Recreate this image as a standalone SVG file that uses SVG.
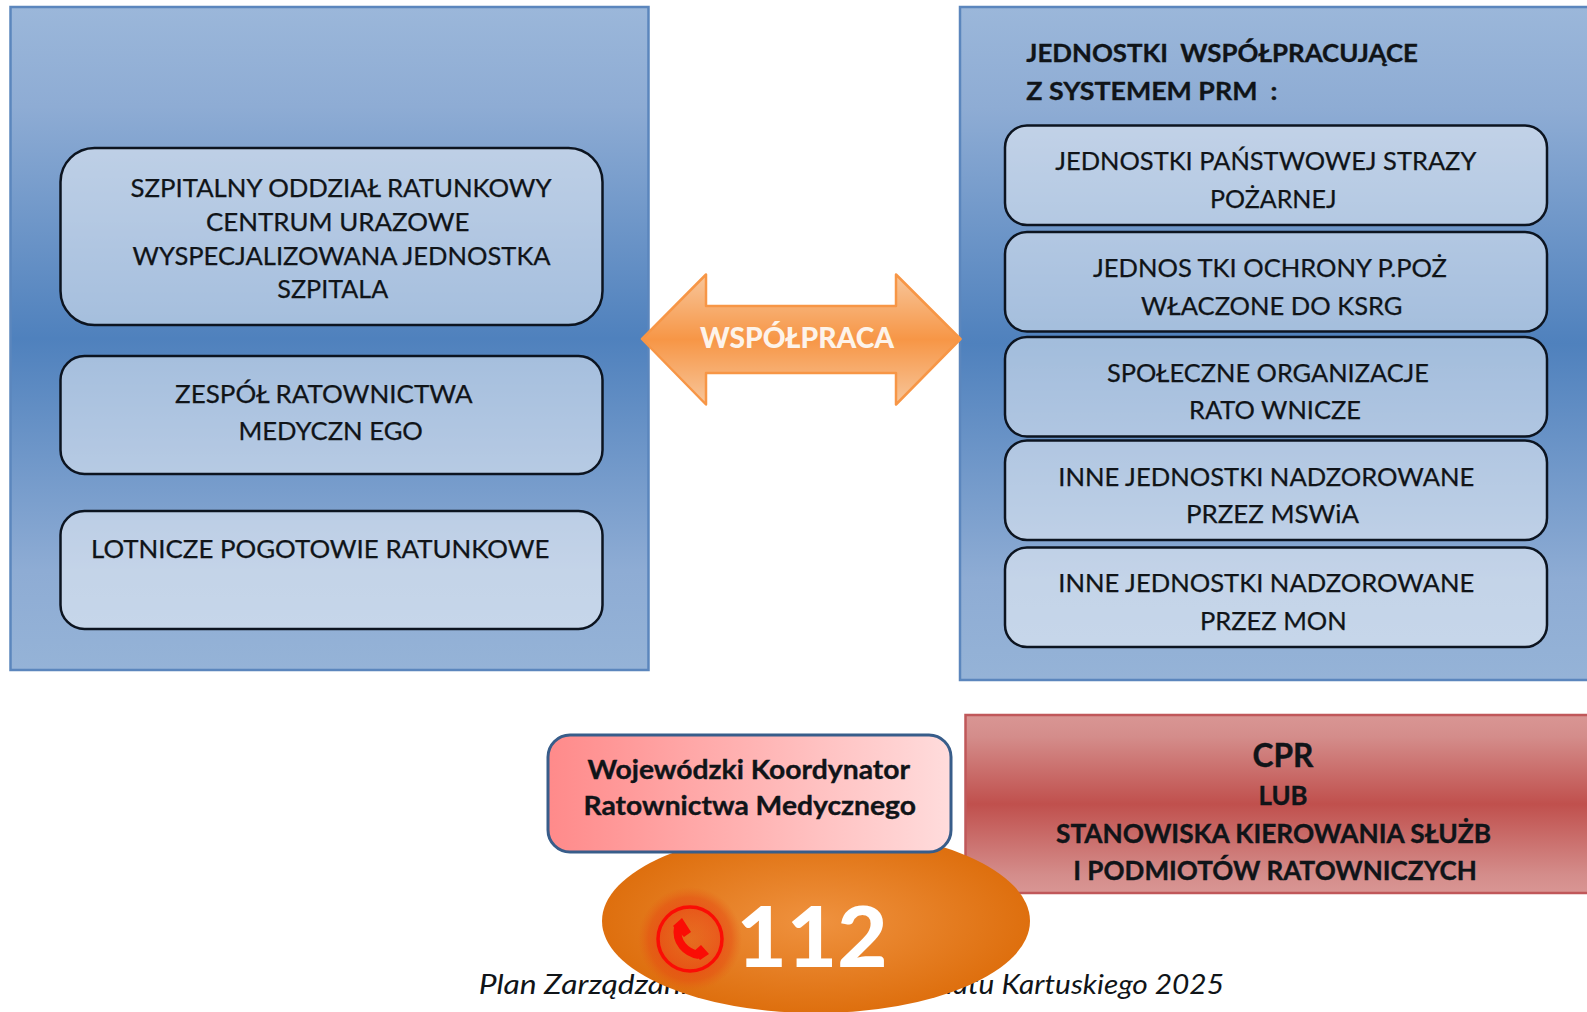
<svg xmlns="http://www.w3.org/2000/svg" width="1587" height="1012" viewBox="0 0 1587 1012">
<style>
text{font-family:"Lato","Liberation Sans",sans-serif;white-space:pre;fill:#101418}
.b{font-size:25px;stroke:#101418;stroke-width:.25}
.h{font-size:25px;font-weight:700;stroke:#101418;stroke-width:.35}
.k{font-size:26px;font-weight:700;stroke:#101418;stroke-width:.35}
.c{font-size:27px;font-style:italic}
.panel{fill:url(#pg);stroke:#5b86bd;stroke-width:2.5}
.box{fill:#fff;fill-opacity:.48;stroke:#0c1420;stroke-width:2.5}
</style>
<defs>
<linearGradient id="pg" x1="0" y1="0" x2="0" y2="1"><stop offset="0" stop-color="#9bb7da"/><stop offset=".15" stop-color="#8eacd4"/><stop offset=".5" stop-color="#4f81bd"/><stop offset=".85" stop-color="#8eacd4"/><stop offset="1" stop-color="#95b3d7"/></linearGradient>
<linearGradient id="rg" x1="0" y1="0" x2="0" y2="1"><stop offset="0" stop-color="#d99694"/><stop offset=".12" stop-color="#d48d8b"/><stop offset=".5" stop-color="#c0504d"/><stop offset=".9" stop-color="#d48d8b"/><stop offset="1" stop-color="#d99694"/></linearGradient>
<linearGradient id="kg" x1="0" y1="0" x2="1" y2="0"><stop offset="0" stop-color="#ff8a8a"/><stop offset="1" stop-color="#ffdcdc"/></linearGradient>
<linearGradient id="ag" x1="0" y1="0" x2="0" y2="1"><stop offset="0" stop-color="#f7c69b"/><stop offset=".5" stop-color="#f79646"/><stop offset="1" stop-color="#f7c69b"/></linearGradient>
<radialGradient id="og" cx=".5" cy=".5" r=".5"><stop offset="0" stop-color="#ef923f"/><stop offset="1" stop-color="#de6f0e"/></radialGradient>
<radialGradient id="gl" cx=".5" cy=".5" r=".5"><stop offset="0" stop-color="#e8501c" stop-opacity=".35"/><stop offset=".6" stop-color="#ea3f14" stop-opacity=".6"/><stop offset=".8" stop-color="#e64a12" stop-opacity=".5"/><stop offset="1" stop-color="#e65a12" stop-opacity="0"/></radialGradient>
</defs>

<g id="panel-left">
<rect class="panel" x="10.500" y="7" width="638" height="663"/>
</g>
<g id="node-szpital">
<rect class="box" x="60.500" y="148" width="542" height="177" rx="34"/>
<text class="b" x="130.600" y="197" textLength="421" lengthAdjust="spacingAndGlyphs">SZPITALNY ODDZIAŁ RATUNKOWY</text>
<text class="b" x="206" y="231" textLength="263.500" lengthAdjust="spacingAndGlyphs">CENTRUM URAZOWE</text>
<text class="b" x="132.600" y="264.800" textLength="418" lengthAdjust="spacingAndGlyphs">WYSPECJALIZOWANA JEDNOSTKA</text>
<text class="b" x="277.300" y="298.300" textLength="111" lengthAdjust="spacingAndGlyphs">SZPITALA</text>
</g>
<g id="node-zrm">
<rect class="box" x="60.500" y="356" width="542" height="118" rx="24"/>
<text class="b" x="175.100" y="402.800" textLength="297.500" lengthAdjust="spacingAndGlyphs">ZESPÓŁ RATOWNICTWA</text>
<text class="b" x="238.400" y="440.300" textLength="184.500" lengthAdjust="spacingAndGlyphs">MEDYCZN EGO</text>
</g>
<g id="node-lpr">
<rect class="box" x="60.500" y="511" width="542" height="118" rx="24"/>
<text class="b" x="91" y="558.300" textLength="458.500" lengthAdjust="spacingAndGlyphs">LOTNICZE POGOTOWIE RATUNKOWE</text>
</g>

<g id="panel-right">
<rect class="panel" x="960" y="7" width="640" height="673"/>
<text class="h" x="1026.300" y="62.300" textLength="391.700" lengthAdjust="spacingAndGlyphs">JEDNOSTKI  WSPÓŁPRACUJĄCE</text>
<text class="h" x="1026.300" y="100" textLength="251" lengthAdjust="spacingAndGlyphs">Z SYSTEMEM PRM  :</text>
</g>
<g id="node-psp">
<rect class="box" x="1005" y="125.500" width="542" height="99.500" rx="22"/>
<text class="b" x="1055.300" y="170.300" textLength="421" lengthAdjust="spacingAndGlyphs">JEDNOSTKI PAŃSTWOWEJ STRAZY</text>
<text class="b" x="1210" y="207.500" textLength="126.500" lengthAdjust="spacingAndGlyphs">POŻARNEJ</text>
</g>
<g id="node-ksrg">
<rect class="box" x="1005" y="232" width="542" height="99.500" rx="22"/>
<text class="b" x="1093" y="277.300" textLength="354" lengthAdjust="spacingAndGlyphs">JEDNOS TKI OCHRONY P.POŻ</text>
<text class="b" x="1141" y="314.800" textLength="261.500" lengthAdjust="spacingAndGlyphs">WŁACZONE DO KSRG</text>
</g>
<g id="node-spoleczne">
<rect class="box" x="1005" y="337" width="542" height="99.500" rx="22"/>
<text class="b" x="1107" y="382" textLength="322" lengthAdjust="spacingAndGlyphs">SPOŁECZNE ORGANIZACJE</text>
<text class="b" x="1189" y="419.300" textLength="172" lengthAdjust="spacingAndGlyphs">RATO WNICZE</text>
</g>
<g id="node-mswia">
<rect class="box" x="1005" y="440.500" width="542" height="99.500" rx="22"/>
<text class="b" x="1058.300" y="485.800" textLength="416" lengthAdjust="spacingAndGlyphs">INNE JEDNOSTKI NADZOROWANE</text>
<text class="b" x="1186" y="523.300" textLength="173" lengthAdjust="spacingAndGlyphs">PRZEZ MSWiA</text>
</g>
<g id="node-mon">
<rect class="box" x="1005" y="547.500" width="542" height="99.500" rx="22"/>
<text class="b" x="1058.300" y="592" textLength="416" lengthAdjust="spacingAndGlyphs">INNE JEDNOSTKI NADZOROWANE</text>
<text class="b" x="1200" y="629.500" textLength="146.700" lengthAdjust="spacingAndGlyphs">PRZEZ MON</text>
</g>

<g id="connectors">
<path d="M642 339L706 274.500V306H896V274.500L960.500 339L896 404.500V373H706V404.500Z" fill="url(#ag)" stroke="#f79646" stroke-width="2.500" stroke-linejoin="round"/>
<text x="700" y="347.500" font-size="28" font-weight="900" textLength="194" lengthAdjust="spacingAndGlyphs" style="fill:#fdf3ea">WSPÓŁPRACA</text>
</g>

<g id="node-cpr">
<rect x="965.500" y="715" width="630" height="178" fill="url(#rg)" stroke="#c0585a" stroke-width="2.500"/>
<text x="1252.500" y="767" font-size="32" font-weight="700" textLength="61" lengthAdjust="spacingAndGlyphs" style="stroke:#101418;stroke-width:.4">CPR</text>
<text class="k" x="1258.500" y="805" textLength="49" lengthAdjust="spacingAndGlyphs">LUB</text>
<text class="k" x="1056" y="842.500" textLength="435" lengthAdjust="spacingAndGlyphs">STANOWISKA KIEROWANIA SŁUŻB</text>
<text class="k" x="1073.300" y="879.500" textLength="403.500" lengthAdjust="spacingAndGlyphs">I PODMIOTÓW RATOWNICZYCH</text>
</g>

<g id="caption">
<text class="c" x="478.700" y="993.500" textLength="406" lengthAdjust="spacingAndGlyphs">Plan Zarządzania Kryzysowego</text>
<text class="c" x="893" y="993.500" textLength="331" lengthAdjust="spacingAndGlyphs">Powiatu Kartuskiego 2025</text>
</g>

<g id="node-112">
<ellipse cx="816" cy="921" rx="214" ry="92" fill="url(#og)"/>
<circle cx="690" cy="939" r="52" fill="url(#gl)"/>
<circle cx="690" cy="939" r="32" fill="none" stroke="#fa0d05" stroke-width="3.500"/>
<path d="M678 927C675 942 686 953 699 955" fill="none" stroke="#fa0d05" stroke-width="8"/>
<path d="M673 926L682 918L691 932L684 937Z M693 952L701 945L709 954L700 960Z" fill="#fa0d05"/>
<text x="736.500" y="966.500" font-size="84" font-weight="900" textLength="151" lengthAdjust="spacingAndGlyphs" style="fill:#fff">112</text>
</g>

<g id="node-wkrm">
<rect x="548" y="735" width="403" height="117" rx="22" fill="url(#kg)" stroke="#385d8a" stroke-width="3"/>
<text class="k" x="587.500" y="778.500" textLength="322.500" lengthAdjust="spacingAndGlyphs">Wojewódzki Koordynator</text>
<text class="k" x="583.500" y="815" textLength="332.500" lengthAdjust="spacingAndGlyphs">Ratownictwa Medycznego</text>
</g>
</svg>
